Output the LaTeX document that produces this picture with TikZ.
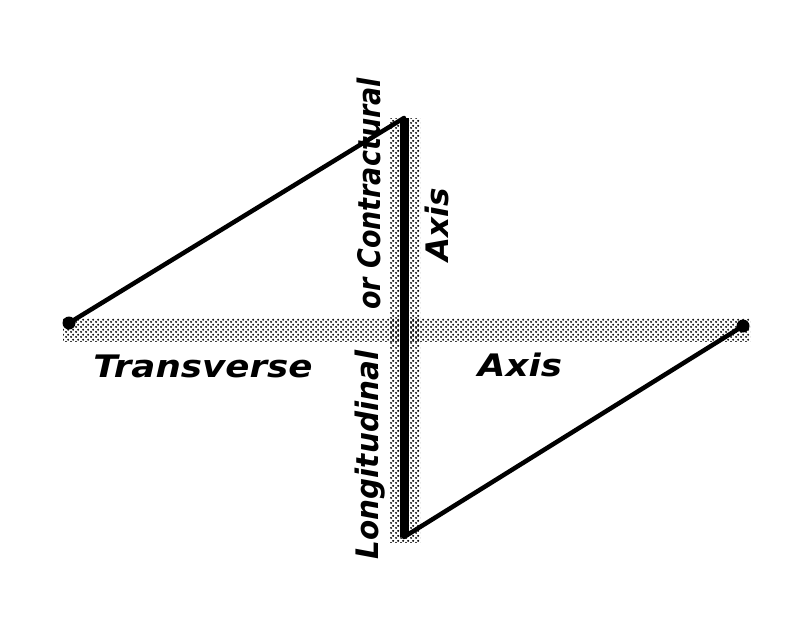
\documentclass[tikz,border=0pt]{standalone}
\usepackage{fontspec}
\setmainfont{DejaVu Sans}
\usetikzlibrary{patterns}
\pgfdeclarepatternformonly{bigdots}{\pgfpointorigin}{\pgfqpoint{5pt}{5pt}}{\pgfqpoint{5pt}{5pt}}{%
  \pgfpathcircle{\pgfqpoint{1.25pt}{1.25pt}}{1.3pt}%
  \pgfpathcircle{\pgfqpoint{3.75pt}{3.75pt}}{1.3pt}%
  \pgfusepath{fill}}
\begin{document}
\begin{tikzpicture}[x=1pt,y=-1pt,
  band/.style={pattern=bigdots, pattern color=black},
  axisline/.style={line width=4.5pt, line cap=round},
  lbl/.style={font=\fontsize{31}{31}\selectfont\bfseries\itshape, inner sep=0pt},
  blob/.style={circle, fill=black, inner sep=0pt, minimum size=13pt}]
\useasboundingbox (0,0) rectangle (788,633);
% bands
\fill[band] (63,318) rectangle (750,341);
\fill[band] (390,118) rectangle (420,542);
% main longitudinal bar
\coordinate (top) at (404,118);
\coordinate (bot) at (404,537);
\draw[line width=9pt] (top) -- (bot);
% end points
\node[blob] (L) at (69,323) {};
\node[blob] (R) at (743,326) {};
\draw[axisline] (L.center) -- (top);
\draw[axisline] (bot) -- (R.center);
% labels
\node[lbl, xscale=1.15] (t1) at (203,366) {Transverse};
\node[lbl, xscale=1.15] (t2) at (520,365) {Axis};
\node[lbl, rotate=90, xscale=1.0] (t3) at (437,225) {Axis};
\node[lbl, rotate=90, xscale=0.87] (t4) at (369,194) {or Contractural};
\node[lbl, rotate=90, xscale=0.95] (t5) at (370,455) {Longitudinal};
\end{tikzpicture}
\end{document}
